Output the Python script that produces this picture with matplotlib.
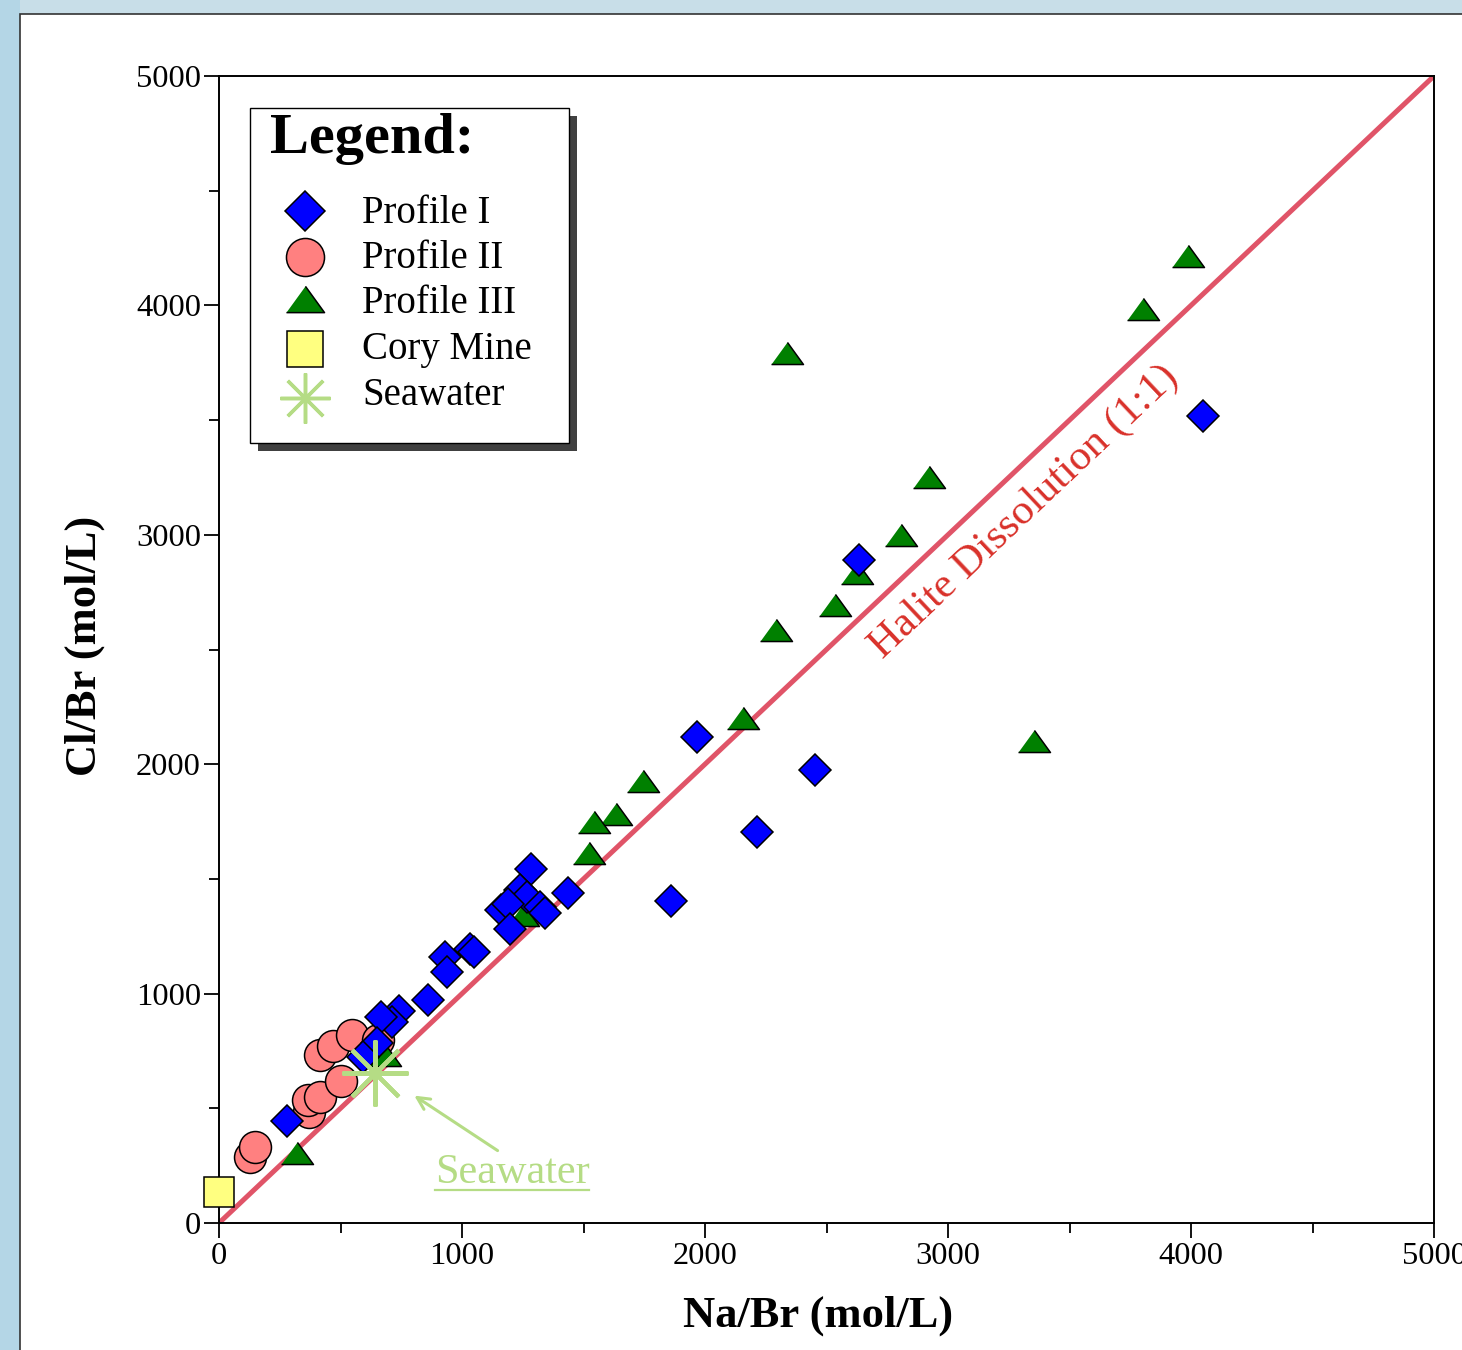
import numpy as np
import matplotlib
matplotlib.use("Agg")
import matplotlib.pyplot as plt
from matplotlib.lines import Line2D
from matplotlib.patches import Rectangle

plt.rcParams['font.family'] = ['Liberation Serif', 'DejaVu Serif']

# Profile I (diamonds)
p1_na = [4049, 2634, 1967, 2453, 2214, 1860, 1282, 1438, 1239, 1267, 1160, 1190,
         1321, 1198, 1340, 1033, 1050, 930, 937, 861, 740, 711, 665, 650, 593, 280]
p1_cl = [3518, 2890, 2119, 1975, 1704, 1404, 1542, 1440, 1452, 1422, 1365, 1390,
         1378, 1280, 1350, 1195, 1180, 1161, 1095, 972, 925, 875, 899, 785, 725, 445]

# Profile II (circles)
p2_na = [128, 148, 370, 366, 416, 502, 416, 469, 547, 654]
p2_cl = [288, 331, 484, 536, 549, 619, 732, 772, 820, 798]

# Profile III (triangles)
p3_na = [3988, 3802, 2337, 2922, 2807, 2626, 2535, 2292, 2156, 3354, 1745, 1634,
         1543, 1523, 1251, 321, 683]
p3_cl = [4215, 3984, 3793, 3252, 2999, 2833, 2694, 2585, 2201, 2101, 1927, 1783,
         1748, 1613, 1343, 305, 732]

# Cory Mine and seawater
cory_na = [0]
cory_cl = [135]
sea_na = [642]
sea_cl = [654]

line_x = [0, 5000]
line_y = [0, 5000]

labels = ['Profile I', 'Profile II', 'Profile III', 'Cory Mine', 'Seawater']

W, H = 1462, 1350
AX_L, AX_T, AX_R, AX_B = 219, 76, 1434, 1223


def axfrac(px, py):
    # pixel position (from top-left) -> axes fraction
    return (px - AX_L) / (AX_R - AX_L), (AX_B - py) / (AX_B - AX_T)


fig = plt.figure(figsize=(W / 100, H / 100), dpi=100, facecolor='#c8dee8')
# left strip and white panel (behind the axes)
fig.patches.append(Rectangle((0, 0), 20 / W, 1, transform=fig.transFigure,
                             facecolor='#b4d6e6', edgecolor='none', zorder=-2))
fig.patches.append(Rectangle((20 / W, -0.05), 1.2, 1.05 - 14 / H,
                             transform=fig.transFigure, facecolor='white',
                             edgecolor='#333333', linewidth=1.2, zorder=-1))

ax = fig.add_axes([AX_L / W, 1 - AX_B / H, (AX_R - AX_L) / W, (AX_B - AX_T) / H])
ax.set_facecolor('none')

tri = [(-1, -0.69), (1, -0.69), (0, 0.69)]
styles = [
    dict(marker='D', mfc='#0000ff', mec='black', mew=1.1),
    dict(marker='o', mfc='#ff8080', mec='black', mew=1.1),
    dict(marker=tri, mfc='#008000', mec='black', mew=1.1),
    dict(marker='s', mfc='#ffff80', mec='black', mew=1.1),
    dict(marker=(8, 2, 0), mec='#b5dc85'),
]

ax.plot(line_x, line_y, color='#e05468', lw=3.6, zorder=2, solid_capstyle='butt')
ax.plot(p2_na, p2_cl, ls='none', ms=23, zorder=3, **styles[1])
ax.plot(p3_na, p3_cl, ls='none', ms=23, zorder=4, **styles[2])
ax.plot(p1_na, p1_cl, ls='none', ms=16.3, zorder=5, **styles[0])
ax.plot(cory_na, cory_cl, ls='none', ms=21.6, zorder=6, clip_on=False, **styles[3])
ax.plot(sea_na, sea_cl, ls='none', ms=47.5, mew=3, zorder=7, **styles[4])

ax.set_xlim(0, 5000)
ax.set_ylim(0, 5000)
ax.set_xticks([0, 1000, 2000, 3000, 4000, 5000])
ax.set_yticks([0, 1000, 2000, 3000, 4000, 5000])
ax.set_xticks(np.arange(500, 5000, 1000), minor=True)
ax.set_yticks(np.arange(500, 5000, 1000), minor=True)
ax.tick_params(which='major', direction='out', length=11, width=1.3, labelsize=23.4)
ax.tick_params(axis='x', which='major', pad=3)
ax.tick_params(axis='y', which='major', pad=2)
ax.tick_params(which='minor', direction='out', length=7, width=1.3)
for s in ax.spines.values():
    s.set_linewidth(1.4)

ax.set_xlabel('Na/Br (mol/L)', fontsize=32, fontweight='bold', labelpad=17)
ax.set_ylabel('Cl/Br (mol/L)', fontsize=32, fontweight='bold', labelpad=22)
ax.xaxis.label.set_x(axfrac(818, 0)[0])
ax.yaxis.label.set_y(axfrac(0, 646)[1])

ax.text(3313, 3099, 'Halite Dissolution (1:1)', color='#d9312a', fontsize=31,
        rotation=43.35, ha='center', va='center', rotation_mode='anchor')

ax.annotate('', xy=(794, 562), xytext=(1156, 309),
            arrowprops=dict(arrowstyle='->', color='#b5dc85', lw=2.2,
                            mutation_scale=22))
sea_txt = ax.text(1206, 218, 'Seawater', color='#b5dc85', fontsize=30.4,
                  ha='center', va='center')

# legend box with drop shadow
lx0, ly0 = axfrac(250, 443)
lx1, ly1 = axfrac(569, 108)
sx0, sy0 = axfrac(258, 451)
ax.add_patch(Rectangle((sx0, sy0), lx1 - lx0, ly1 - ly0, transform=ax.transAxes,
                       facecolor='#404040', edgecolor='none', zorder=9, clip_on=False))
ax.add_patch(Rectangle((lx0, ly0), lx1 - lx0, ly1 - ly0, transform=ax.transAxes,
                       facecolor='white', edgecolor='black', lw=1.0, zorder=10, clip_on=False))
tx, ty = axfrac(270, 153)
ax.text(tx, ty, 'Legend:', transform=ax.transAxes, fontsize=42, fontweight='bold',
        ha='left', va='baseline', zorder=11)

leg_sizes = [19.9, 27.4, 27.4, 26.6, 36]
marker_rows = [211, 257, 299, 349, 398]
text_rows = [223, 268, 313, 359, 405]
for st, ms, my, tyy, lab in zip(styles, leg_sizes, marker_rows, text_rows, labels):
    mx, myf = axfrac(305, my)
    extra = {'mew': 2.5} if lab == 'Seawater' else {}
    ax.plot([mx], [myf], ls='none', ms=ms, transform=ax.transAxes, zorder=11,
            clip_on=False, **st, **extra)
    ax.text(axfrac(362, 0)[0], axfrac(0, tyy)[1], lab, transform=ax.transAxes,
            fontsize=28, ha='left', va='baseline', zorder=11)

# underline for the seawater label
fig.canvas.draw()
inv = ax.transAxes.inverted()
tb = sea_txt.get_window_extent()
(ux0, uy), (ux1, _) = inv.transform([(tb.x0, tb.y0 + 2), (tb.x1, tb.y0 + 2)])
ax.add_line(Line2D([ux0, ux1], [uy, uy], transform=ax.transAxes, color='#b5dc85', lw=1.6))

fig.savefig('out.png', dpi=100, facecolor=fig.get_facecolor())
